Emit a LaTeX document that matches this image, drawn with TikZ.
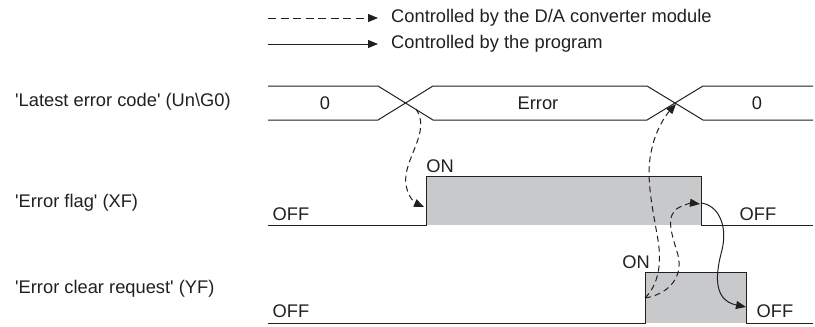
\documentclass[tikz,border=0pt]{standalone}
\usepackage{fontspec}
\setmainfont{Liberation Sans}
\usetikzlibrary{arrows.meta}
\definecolor{ink}{RGB}{35,31,32}
\definecolor{greyfill}{RGB}{200,201,202}
\begin{document}
\begin{tikzpicture}[x=1pt,y=-1pt,
  font=\fontsize{18.3}{21}\selectfont,
  every node/.style={inner sep=0pt, text=ink},
  sig/.style={draw=ink, line width=1pt, line join=miter},
  tip/.style={-{Triangle[length=10pt,width=8pt]}},
  modarrow/.style={draw=ink, line width=1pt, dash pattern=on 6pt off 4pt, tip},
  legdash/.style={draw=ink, line width=1pt, dash pattern=on 8pt off 4.5pt, tip},
  progarrow/.style={draw=ink, line width=1pt, tip},
  lbl/.style={anchor=west}]
\useasboundingbox (0,0) rectangle (815,327);

% legend
\coordinate (la1) at (268,18);
\coordinate (lb1) at (378,18);
\coordinate (la2) at (268,44);
\coordinate (lb2) at (378,44);
\draw[legdash] (la1) -- (lb1);
\draw[progarrow] (la2) -- (lb2);
\node[lbl] (lt1) at (391,18) {Controlled by the D/A converter module};
\node[lbl] (lt2) at (391,44) {Controlled by the program};

% signal names
\node[lbl] (n1) at (15,102) {\textquotesingle Latest error code\textquotesingle{} (Un\textbackslash G0)};
\node[lbl] (n2) at (15,203) {\textquotesingle Error flag\textquotesingle{} (XF)};
\node[lbl] (n3) at (15,289) {\textquotesingle Error clear request\textquotesingle{} (YF)};

% latest error code bus
\draw[sig] (268,86) -- (378,86) -- (433,120) -- (647,120) -- (703,86) -- (813,86);
\draw[sig] (268,120) -- (378,120) -- (433,86) -- (647,86) -- (703,120) -- (813,120);
\node (v1) at (325,103) {0};
\node (v2) at (538,103) {Error};
\node (v3) at (757,103) {0};
\coordinate (cross1) at (416,109);
\coordinate (cross2) at (676,104);

% error flag
\fill[greyfill] (426,176) rectangle (701,225);
\draw[sig] (268,225) -- (426,225) -- (426,176) -- (701,176) -- (701,225) -- (813,225);
\node (xon) at (440,166) {ON};
\node (xoff1) at (291,214) {OFF};
\node (xoff2) at (758,214) {OFF};
\coordinate (xrise) at (424,207);
\coordinate (xfall) at (700,204);
\coordinate (xfallp) at (701,203);

% error clear request
\fill[greyfill] (645,272) rectangle (746,323);
\draw[sig] (268,323) -- (645,323) -- (645,272) -- (746,272) -- (746,323) -- (813,323);
\node (yon) at (636,262) {ON};
\node (yoff1) at (291,311) {OFF};
\node (yoff2) at (775,311) {OFF};
\coordinate (yrise) at (645,298);
\coordinate (yfall) at (746,307);

% cause/effect arrows
\draw[modarrow] (cross1) .. controls (432,132) and (402,160) .. (406,185)
   .. controls (408,197) and (415,203) .. (xrise);
\draw[modarrow] (yrise) .. controls (658,285) and (662,265) .. (658,240)
   .. controls (652,205) and (645,175) .. (652,148)
   .. controls (656,130) and (665,116) .. (cross2);
\draw[modarrow] (yrise) .. controls (665,295) and (684,280) .. (678,255)
   .. controls (672,235) and (664,214) .. (680,207)
   .. controls (686,204) and (692,203) .. (xfall);
\draw[progarrow] (xfallp) .. controls (718,205) and (728,225) .. (722,250)
   .. controls (716,272) and (712,300) .. (yfall);
\end{tikzpicture}
\end{document}
